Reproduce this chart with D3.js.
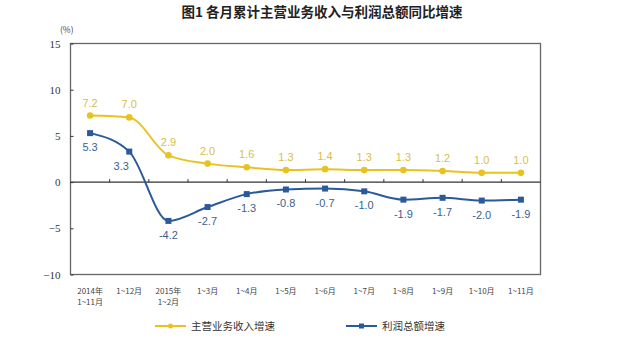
<!DOCTYPE html>
<html><head><meta charset="utf-8">
<script src="https://cdn.jsdelivr.net/npm/d3@7/dist/d3.min.js"></script>
<style>body{margin:0;background:#fff}svg{display:block}</style>
</head><body>
<svg id="c" width="630" height="339"></svg>
<script>
const categories = [["2014年","1~11月"],["1~12月"],["2015年","1~2月"],["1~3月"],["1~4月"],["1~5月"],["1~6月"],["1~7月"],["1~8月"],["1~9月"],["1~10月"],["1~11月"]];
const revenue = [7.2,7.0,2.9,2.0,1.6,1.3,1.4,1.3,1.3,1.2,1.0,1.0];
const profit = [5.3,3.3,-4.2,-2.7,-1.3,-0.8,-0.7,-1.0,-1.9,-1.7,-2.0,-1.9];
const yTicks = [15,10,5,0,-5,-10];
const seriesNames = ["主营业务收入增速","利润总额增速"];
const title = "图1  各月累计主营业务收入与利润总额同比增速";

const font = "'Noto Sans CJK SC', sans-serif";
const yellow = "#e8c31f", yellowTxt = "#d8c048";
const blue = "#2a5a9a", blueTxt = "#3d5f8e";
const svg = d3.select("#c");
const L=70.5, R=540.5, T=43.5, B=274.5;
const x = d3.scaleBand().domain(d3.range(categories.length)).range([L,R]);
const y = d3.scaleLinear().domain([-10,15]).range([B,T]);

svg.append("text").attr("x",322).attr("y",17).attr("text-anchor","middle")
  .attr("font-family",font).attr("font-weight","bold").attr("font-size",13.5).attr("fill","#222").text(title);

// frame
svg.append("rect").attr("x",L).attr("y",T).attr("width",R-L).attr("height",B-T)
  .attr("fill","none").attr("stroke","#666").attr("stroke-width",1.3);
// zero line
svg.append("line").attr("x1",L).attr("x2",R).attr("y1",y(0)).attr("y2",y(0)).attr("stroke","#333").attr("stroke-width",1.2);
// x ticks at band boundaries on zero line
d3.range(1,categories.length).forEach(i=>{
  const xx = x(i);
  svg.append("line").attr("x1",xx).attr("x2",xx).attr("y1",y(0)).attr("y2",y(0)-3).attr("stroke","#333");
});
// y axis ticks and labels
const yAxis = d3.axisLeft(y).tickValues(yTicks).tickSize(-3).tickPadding(10);
const ga = svg.append("g").attr("transform",`translate(${L},0)`).call(yAxis);
ga.select(".domain").remove();
ga.selectAll("line").attr("stroke","#333");
ga.selectAll("text").attr("font-family","'Liberation Serif', serif").attr("font-size",11).attr("fill","#333");
svg.append("text").attr("x",60).attr("y",33).attr("font-family",font).attr("font-size",8.5).attr("fill","#444").text("(%)");

// x labels
categories.forEach((c,i)=>{
  const t = svg.append("text").attr("x",x(i)+x.bandwidth()/2).attr("y",294).attr("text-anchor","middle")
    .attr("font-family",font).attr("font-size",8).attr("fill","#444");
  c.forEach((s,k)=>t.append("tspan").attr("x",x(i)+x.bandwidth()/2).attr("dy",k?11:0).text(s));
});

const cx = i => x(i)+x.bandwidth()/2;
const line = d3.line().x((d,i)=>cx(i)).y(d=>y(d)).curve(d3.curveMonotoneX);

svg.append("path").datum(revenue).attr("d",line).attr("fill","none").attr("stroke",yellow).attr("stroke-width",2);
svg.append("path").datum(profit).attr("d",line).attr("fill","none").attr("stroke",blue).attr("stroke-width",2);

svg.selectAll(".ym").data(revenue).enter().append("circle").attr("cx",(d,i)=>cx(i)).attr("cy",d=>y(d)).attr("r",3.3).attr("fill",yellow);
svg.selectAll(".bm").data(profit).enter().append("rect").attr("x",(d,i)=>cx(i)-3).attr("y",d=>y(d)-3).attr("width",6).attr("height",6).attr("fill",blue);

svg.selectAll(".yl").data(revenue).enter().append("text").attr("x",(d,i)=>cx(i)).attr("y",d=>y(d)-9)
  .attr("text-anchor","middle").attr("font-family","'Liberation Sans', sans-serif").attr("font-size",11).attr("fill",yellowTxt).text(d=>d.toFixed(1));
svg.selectAll(".bl").data(profit).enter().append("text").attr("x",(d,i)=>cx(i)-(i===1?8:0)).attr("y",d=>y(d)+18)
  .attr("text-anchor","middle").attr("font-family","'Liberation Sans', sans-serif").attr("font-size",11).attr("fill",blueTxt).text(d=>d.toFixed(1));

// legend
const leg = [{x:155,c:yellow,n:seriesNames[0],m:"c"},{x:346,c:blue,n:seriesNames[1],m:"s"}];
leg.forEach(l=>{
  svg.append("line").attr("x1",l.x).attr("x2",l.x+31).attr("y1",326).attr("y2",326).attr("stroke",l.c).attr("stroke-width",2);
  if(l.m==="c") svg.append("circle").attr("cx",l.x+15.5).attr("cy",326).attr("r",2.5).attr("fill",l.c);
  else svg.append("rect").attr("x",l.x+13).attr("y",323.5).attr("width",5).attr("height",5).attr("fill",l.c);
  svg.append("text").attr("x",l.x+36).attr("y",330).attr("font-family",font).attr("font-size",10.5).attr("fill","#333").text(l.n);
});
</script>
</body></html>
